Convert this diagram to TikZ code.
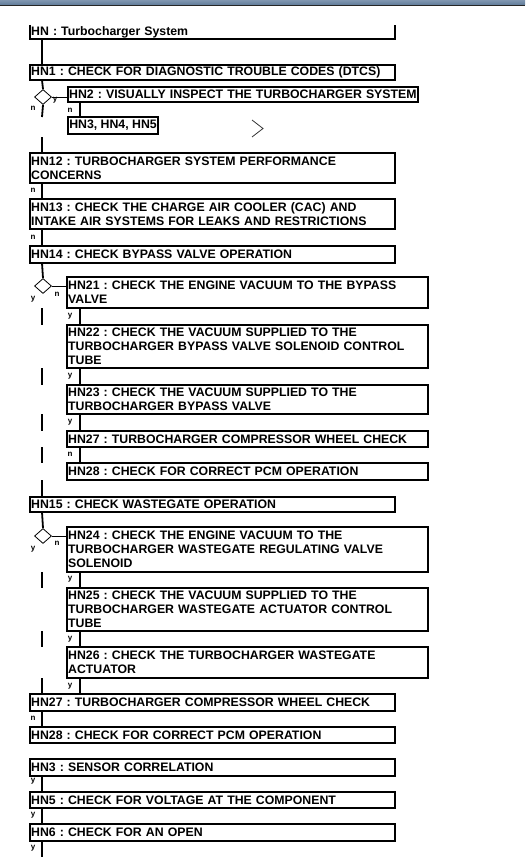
\documentclass[tikz,border=0pt]{standalone}
\usepackage{fontspec}
\setmainfont{Liberation Sans}
\usetikzlibrary{shapes.geometric,calc}
\frenchspacing
\hyphenpenalty=10000
\exhyphenpenalty=10000
\begin{document}
\begin{tikzpicture}[x=1pt,y=-1pt,
  boxtxt/.style={anchor=north west, align=left, inner xsep=1.2pt, inner ysep=0pt, outer sep=0pt, font=\fontsize{12.3}{14}\selectfont\bfseries},
  boxline/.style={line width=1.6pt, black},
  mainbox/.style={boxtxt, draw, line width=1.6pt, text width=362.6pt},
  subbox/.style={boxtxt, draw, line width=1.6pt, text width=358.6pt},
  lab/.style={font=\fontsize{8}{9}\selectfont\bfseries, inner sep=0pt},
  dia/.style={diamond, draw, line width=0.8pt, minimum width=17pt, minimum height=15pt, inner sep=0pt},
  conn/.style={line width=1.8pt},
  thin/.style={line width=0.8pt}
]
\useasboundingbox (0,0) rectangle (525,867);
% top bar
\shade[top color={rgb,255:red,128;green,150;blue,176}, bottom color={rgb,255:red,96;green,124;blue,154}] (0,0) rectangle (525,5);
\fill[black!85] (0,5) rectangle (525,6.3);

\coordinate (spine) at (42,0);
\coordinate (sub) at (80,0);

% top bracket
\node[boxtxt, text width=362.6pt, minimum height=14pt] (hn) at (30,25) {HN : Turbocharger System};
\draw[boxline] (hn.north west) -- (hn.south west) -- (hn.south east) -- (hn.north east);

\node[mainbox, minimum height=15pt] (hn1) at (30,65) {HN1 : CHECK FOR DIAGNOSTIC TROUBLE CODES (DTCS)};
\node[dia] (d1) at (43,97) {};
\node[boxtxt, draw, line width=1.6pt, text width=347.6pt, minimum height=15pt] (hn2) at (68,87) {HN2 : VISUALLY INSPECT THE TURBOCHARGER SYSTEM};
\node[anchor=north west, inner xsep=1pt, inner ysep=0pt, outer sep=0pt, font=\fontsize{12.3}{14}\selectfont\bfseries, draw, line width=1.6pt, minimum width=90pt, minimum height=17pt] (hn345) at (68,117) {HN3, HN4, HN5};

\node[mainbox, minimum height=30pt] (hn12) at (30,153) {HN12 : TURBOCHARGER SYSTEM PERFORMANCE\\CONCERNS};
\node[mainbox, minimum height=30pt] (hn13) at (30,199) {HN13 : CHECK THE CHARGE AIR COOLER (CAC) AND\\INTAKE AIR SYSTEMS FOR LEAKS AND RESTRICTIONS};
\node[mainbox, minimum height=17pt] (hn14) at (30,246) {HN14 : CHECK BYPASS VALVE OPERATION};

\node[dia] (d2) at (43,286) {};
\node[subbox, minimum height=31pt] (hn21) at (67,277) {HN21 : CHECK THE ENGINE VACUUM TO THE BYPASS\\VALVE};
\node[subbox, minimum height=43pt] (hn22) at (67,325) {HN22 : CHECK THE VACUUM SUPPLIED TO THE\\TURBOCHARGER BYPASS VALVE SOLENOID CONTROL\\TUBE};
\node[subbox, minimum height=29pt] (hn23) at (67,385) {HN23 : CHECK THE VACUUM SUPPLIED TO THE\\TURBOCHARGER BYPASS VALVE};
\node[subbox, minimum height=16pt] (hn27s) at (67,431) {HN27 : TURBOCHARGER COMPRESSOR WHEEL CHECK};
\node[subbox, minimum height=17pt] (hn28s) at (67,463) {HN28 : CHECK FOR CORRECT PCM OPERATION};

\node[mainbox, minimum height=15pt] (hn15) at (30,497) {HN15 : CHECK WASTEGATE OPERATION};
\node[dia] (d3) at (43,536) {};
\node[subbox, minimum height=45pt] (hn24) at (67,527) {HN24 : CHECK THE ENGINE VACUUM TO THE\\TURBOCHARGER WASTEGATE REGULATING VALVE\\SOLENOID};
\node[subbox, minimum height=43pt] (hn25) at (67,588) {HN25 : CHECK THE VACUUM SUPPLIED TO THE\\TURBOCHARGER WASTEGATE ACTUATOR CONTROL\\TUBE};
\node[subbox, minimum height=31pt] (hn26) at (67,647) {HN26 : CHECK THE TURBOCHARGER WASTEGATE\\ACTUATOR};

\node[mainbox, minimum height=17pt] (hn27) at (30,694) {HN27 : TURBOCHARGER COMPRESSOR WHEEL CHECK};
\node[mainbox, minimum height=16pt] (hn28) at (30,727) {HN28 : CHECK FOR CORRECT PCM OPERATION};
\node[mainbox, minimum height=17pt] (hn3) at (30,759) {HN3 : SENSOR CORRELATION};
\node[mainbox, minimum height=16pt] (hn5) at (30,792) {HN5 : CHECK FOR VOLTAGE AT THE COMPONENT};
\node[mainbox, minimum height=17pt] (hn6) at (30,824) {HN6 : CHECK FOR AN OPEN};
\coordinate (end) at (42,857);

% spine connectors
\draw[conn] (spine |- hn.south) -- (spine |- hn1.north);
\draw[conn] (spine |- hn1.south) -- (d1.north);
\draw[conn] (d1.south) -- (spine |- hn345.north);
\draw[conn] ($(spine |- hn345.south)+(0,3)$) -- (spine |- hn12.north);
\draw[conn] (spine |- hn12.south) -- (spine |- hn13.north);
\draw[conn] (spine |- hn13.south) -- (spine |- hn14.north);
\draw[conn] (spine |- hn14.south) -- (d2.north);
\draw[conn] (spine |- hn21.south) -- (spine |- hn22.north);
\draw[conn] (spine |- hn22.south) -- (spine |- hn23.north);
\draw[conn] (spine |- hn23.south) -- (spine |- hn27s.north);
\draw[conn] (spine |- hn27s.south) -- (spine |- hn28s.north);
\draw[conn] (spine |- hn28s.south) -- (spine |- hn15.north);
\draw[conn] (spine |- hn15.south) -- (d3.north);
\draw[conn] (spine |- hn24.south) -- (spine |- hn25.north);
\draw[conn] (spine |- hn25.south) -- (spine |- hn26.north);
\draw[conn] (spine |- hn26.south) -- (spine |- hn27.north);
\draw[conn] (spine |- hn27.south) -- (spine |- hn28.north);
\draw[conn] (spine |- hn3.south) -- (spine |- hn5.north);
\draw[conn] (spine |- hn5.south) -- (spine |- hn6.north);
\draw[conn] (spine |- hn6.south) -- (end);

% diamond to boxes
\draw[thin] (d1.east) -- (d1.east -| hn2.west);
\draw[thin] (d2.east) -- (d2.east -| hn21.west);
\draw[thin] (d3.east) -- (d3.east -| hn24.west);

% sub connectors
\draw[conn] (sub |- hn2.south) -- (sub |- hn345.north);
\draw[conn] (sub |- hn21.south) -- (sub |- hn22.north);
\draw[conn] (sub |- hn22.south) -- (sub |- hn23.north);
\draw[conn] (sub |- hn23.south) -- (sub |- hn27s.north);
\draw[conn] (sub |- hn27s.south) -- (sub |- hn28s.north);
\draw[conn] (sub |- hn24.south) -- (sub |- hn25.north);
\draw[conn] (sub |- hn25.south) -- (sub |- hn26.north);
\draw[conn] (sub |- hn26.south) -- (sub |- hn27.north);

% labels
\node[lab] (l1) at (33,108) {n};
\node[lab] (l2) at (55,100) {y};
\node[lab] (l3) at (70,110) {n};
\node[lab] (l4) at (33,190) {n};
\node[lab] (l5) at (33,237) {n};
\node[lab] (l6) at (33,299) {y};
\node[lab] (l7) at (57,294) {n};
\node[lab] (l8) at (70,316) {y};
\node[lab] (l9) at (70,376) {y};
\node[lab] (l10) at (70,422) {y};
\node[lab] (l11) at (70,454) {n};
\node[lab] (l12) at (33,549) {y};
\node[lab] (l13) at (57,543) {n};
\node[lab] (l14) at (70,579) {y};
\node[lab] (l15) at (70,639) {y};
\node[lab] (l16) at (70,686) {y};
\node[lab] (l17) at (33,718) {n};
\node[lab] (l18) at (33,781) {y};
\node[lab] (l19) at (33,815) {y};
\node[lab] (l20) at (33,848) {y};

% chevron mark
\coordinate (c1) at (252,120);
\coordinate (c2) at (263,128.5);
\coordinate (c3) at (252,137);
\draw[line width=0.8pt, black!80] (c1) -- (c2) -- (c3);
\end{tikzpicture}
\end{document}
